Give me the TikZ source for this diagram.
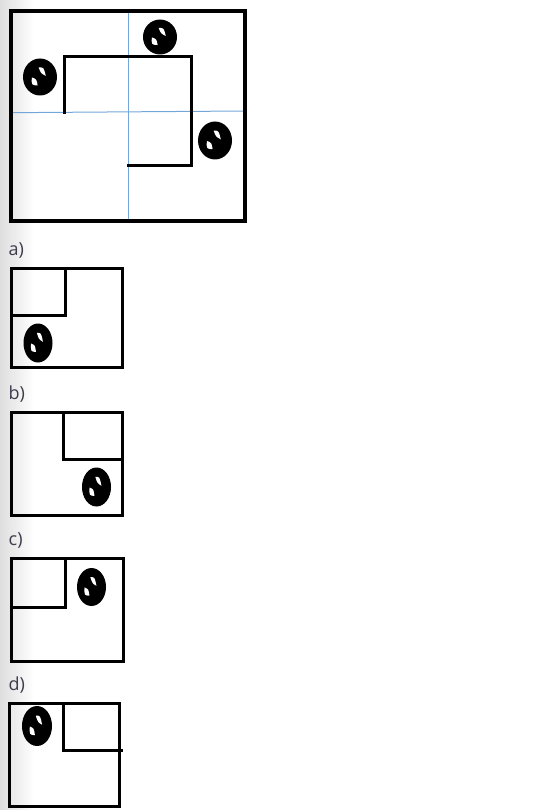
\documentclass[tikz,border=0pt]{standalone}
\usepackage{fontspec}
\setmainfont{Open Sans}
\begin{document}
\begin{tikzpicture}[x=1pt,y=-1pt,line join=miter,line cap=rect]
	\definecolor{gridblue}{rgb}{0.45, 0.65, 0.85}
	\definecolor{labelgray}{rgb}{0.24, 0.24, 0.30}
	%\draw[help lines] (0,0) grid (535,810);
	\useasboundingbox (0,0) rectangle (535,810);
	\shade[left color=black!13, right color=white] (0,0) rectangle (34,810);
	
	\tikzset{coin/.pic={
			\fill[black] (0,0) circle (1);
			\fill[white] (-.08,-.52) .. controls (.22,-.52) .. (.34,-.06)
			.. controls (.05,-.2) .. (-.08,-.52) -- cycle;
			\fill[white] (-.48,.02) .. controls (-.5,.44) .. (-.14,.46)
			.. controls (-.2,.12) .. (-.48,.02) -- cycle;
	}}
	
	% big square with the blue cut lines
	\draw[gridblue,line width=1pt] (128,11)--(128,221);
	\draw[gridblue,line width=1pt] (11,112.7)--(245,111);
	\draw[line width=3.6pt] (11,11) rectangle (245,221);
	\draw[line width=3pt] (64,112.5)--(64,57)--(191.5,57)--(191.5,165.5)--(128.5,165.5);
	\path
	(160,37)pic[xscale=17,yscale=17.5]{coin}
	(40,77)pic[xscale=17,yscale=18.5]{coin}
	(215,140.5)pic[xscale=17,yscale=19]{coin};
	
	% the four answers
	\foreach \n/\l/\t/\r/\b in {a/11/268/122/367,b/11/412/122.5/515,c/11/558/123/661,d/9.5/703/119.5/806}{
		\node[labelgray,font=\fontsize{18}{20}\selectfont,anchor=base west,inner sep=0pt] (lbl\n) at (8.5,\t-13) {\n)};
		\draw[line width=3pt] (\l,\t) rectangle (\r,\b);
	}
	\draw[line width=3pt] (11,315)--(65.5,315)--(65.5,268);
	\draw[line width=3pt] (63,412)--(63,459)--(122.5,459);
	\draw[line width=3pt] (11,607)--(65,607)--(65,558);
	\draw[line width=3pt] (63.5,703)--(63.5,750)--(121.5,750);
	\path
	(38,343)pic[xscale=14.5,yscale=19.5]{coin}
	(96.5,487)pic[xscale=14.5,yscale=19.5]{coin}
	(91.5,587)pic[xscale=14.5,yscale=19]{coin}
	(37,726)pic[xscale=15,yscale=20]{coin};
\end{tikzpicture}
\end{document}
